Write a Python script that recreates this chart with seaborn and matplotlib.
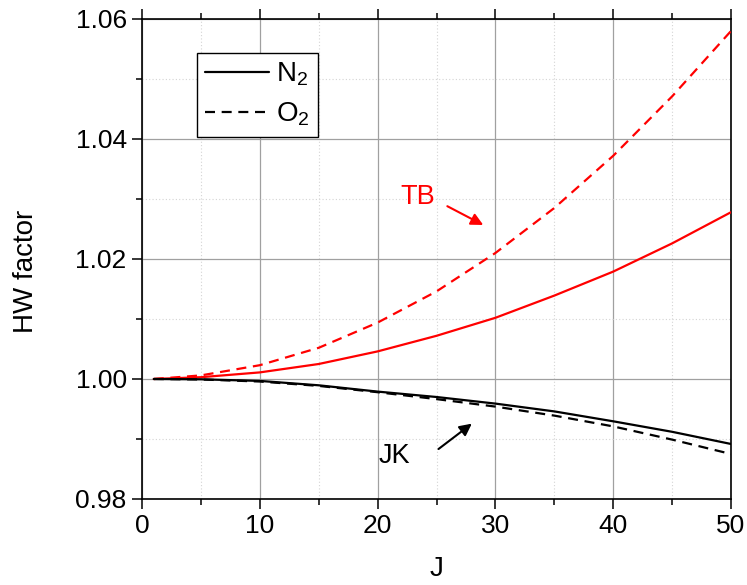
import numpy as np
import pandas as pd
import seaborn as sns
import matplotlib
matplotlib.use("Agg")
import matplotlib.pyplot as plt
from matplotlib.lines import Line2D
from matplotlib.ticker import MultipleLocator, FormatStrFormatter

# Rotational quantum number J
j_values = [1, 5, 10, 15, 20, 25, 30, 35, 40, 45, 50]

# HW factor, TB model
tb_n2 = [1.0000, 1.0003, 1.0011, 1.0025, 1.0046, 1.0072, 1.0102, 1.0139, 1.0179, 1.0226, 1.0278]
tb_o2 = [1.0000, 1.0006, 1.0023, 1.0052, 1.0094, 1.0146, 1.0210, 1.0285, 1.0372, 1.0471, 1.0580]

# HW factor, JK model
jk_n2 = [1.0000, 0.99995, 0.99968, 0.99895, 0.99790, 0.99700, 0.99590, 0.99460, 0.99295, 0.99120, 0.98917]
jk_o2 = [1.0000, 0.99992, 0.99958, 0.99885, 0.99780, 0.99665, 0.99540, 0.99390, 0.99210, 0.98990, 0.98750]

series = {("TB", "N2"): tb_n2, ("TB", "O2"): tb_o2,
          ("JK", "N2"): jk_n2, ("JK", "O2"): jk_o2}
rows = []
for (model, gas), vals in series.items():
    for j, v in zip(j_values, vals):
        rows.append({"J": j, "HW": v, "model": model, "gas": gas})
df = pd.DataFrame(rows)

sns.set_theme(style="white", rc={"text.color": "black", "axes.labelcolor": "black",
                                 "xtick.color": "black", "ytick.color": "black"})
plt.rcParams["font.family"] = ["Liberation Sans", "DejaVu Sans"]
plt.rcParams["mathtext.fontset"] = "custom"
plt.rcParams["mathtext.rm"] = "Liberation Sans"
plt.rcParams["mathtext.it"] = "Liberation Sans:italic"

FS = 19

fig = plt.figure(figsize=(7.47, 5.85), dpi=100)
ax = fig.add_axes([142 / 747, 86 / 585, 589 / 747, 480 / 585])

sns.lineplot(data=df, x="J", y="HW", hue="model", style="gas",
             palette={"TB": "#ff0000", "JK": "black"},
             dashes={"N2": "", "O2": (4.5, 3)},
             linewidth=1.6, legend=False, ax=ax, zorder=3)

ax.set_xlim(0, 50)
ax.set_ylim(0.98, 1.06)
ax.xaxis.set_major_locator(MultipleLocator(10))
ax.xaxis.set_minor_locator(MultipleLocator(5))
ax.yaxis.set_major_locator(MultipleLocator(0.02))
ax.yaxis.set_minor_locator(MultipleLocator(0.01))
ax.yaxis.set_major_formatter(FormatStrFormatter("%.2f"))

ax.grid(which="major", color="#a0a0a0", linewidth=0.9, linestyle="-")
ax.grid(which="minor", color="#d4d4d4", linewidth=0.8, linestyle=(0, (1, 2)))
ax.set_axisbelow(True)

for s in ax.spines.values():
    s.set_color("black")
    s.set_linewidth(1.2)

ax.tick_params(which="major", direction="out", length=7, width=1.1, color="black",
               labelcolor="black", labelsize=FS, pad=4,
               top=True, bottom=True, left=True, right=False)
ax.tick_params(which="minor", direction="out", length=4, width=1.1, color="black",
               top=True, bottom=True, left=True, right=False)

ax.set_xlabel("J", fontsize=FS + 1, color="black")
ax.set_ylabel("HW factor", fontsize=FS + 1, color="black")
ax.xaxis.set_label_coords(0.5, -0.118)
ax.yaxis.set_label_coords(-0.175, 0.475)

# Model annotations
ax.text(21.9, 1.0304, "TB", color="#ff0000", fontsize=FS + 0.5, ha="left", va="center")
ax.annotate("", xy=(28.97, 1.02567), xytext=(25.92, 1.0288),
            arrowprops=dict(arrowstyle="-|>", color="#ff0000", lw=1.5,
                            mutation_scale=18, shrinkA=0, shrinkB=0))
ax.text(20.05, 0.98711, "JK", color="black", fontsize=FS + 0.5, ha="left", va="center")
ax.annotate("", xy=(28.0, 0.99256), xytext=(25.17, 0.98833),
            arrowprops=dict(arrowstyle="-|>", color="black", lw=1.5,
                            mutation_scale=18, shrinkA=0, shrinkB=0))

handles = [Line2D([], [], color="black", lw=1.6, linestyle="-"),
           Line2D([], [], color="black", lw=1.6, dashes=(4.5, 3))]
leg = ax.legend(handles, [r"N$_2$", r"O$_2$"], loc="upper left",
                bbox_to_anchor=(0.093, 0.93), fontsize=FS + 1, frameon=True,
                fancybox=False, framealpha=1, edgecolor="black",
                borderpad=0.3, handlelength=2.3, handletextpad=0.25,
                labelspacing=0.45, borderaxespad=0)
leg.get_frame().set_linewidth(1.0)
for t in leg.get_texts():
    t.set_color("black")

fig.savefig("out.png", dpi=100)
